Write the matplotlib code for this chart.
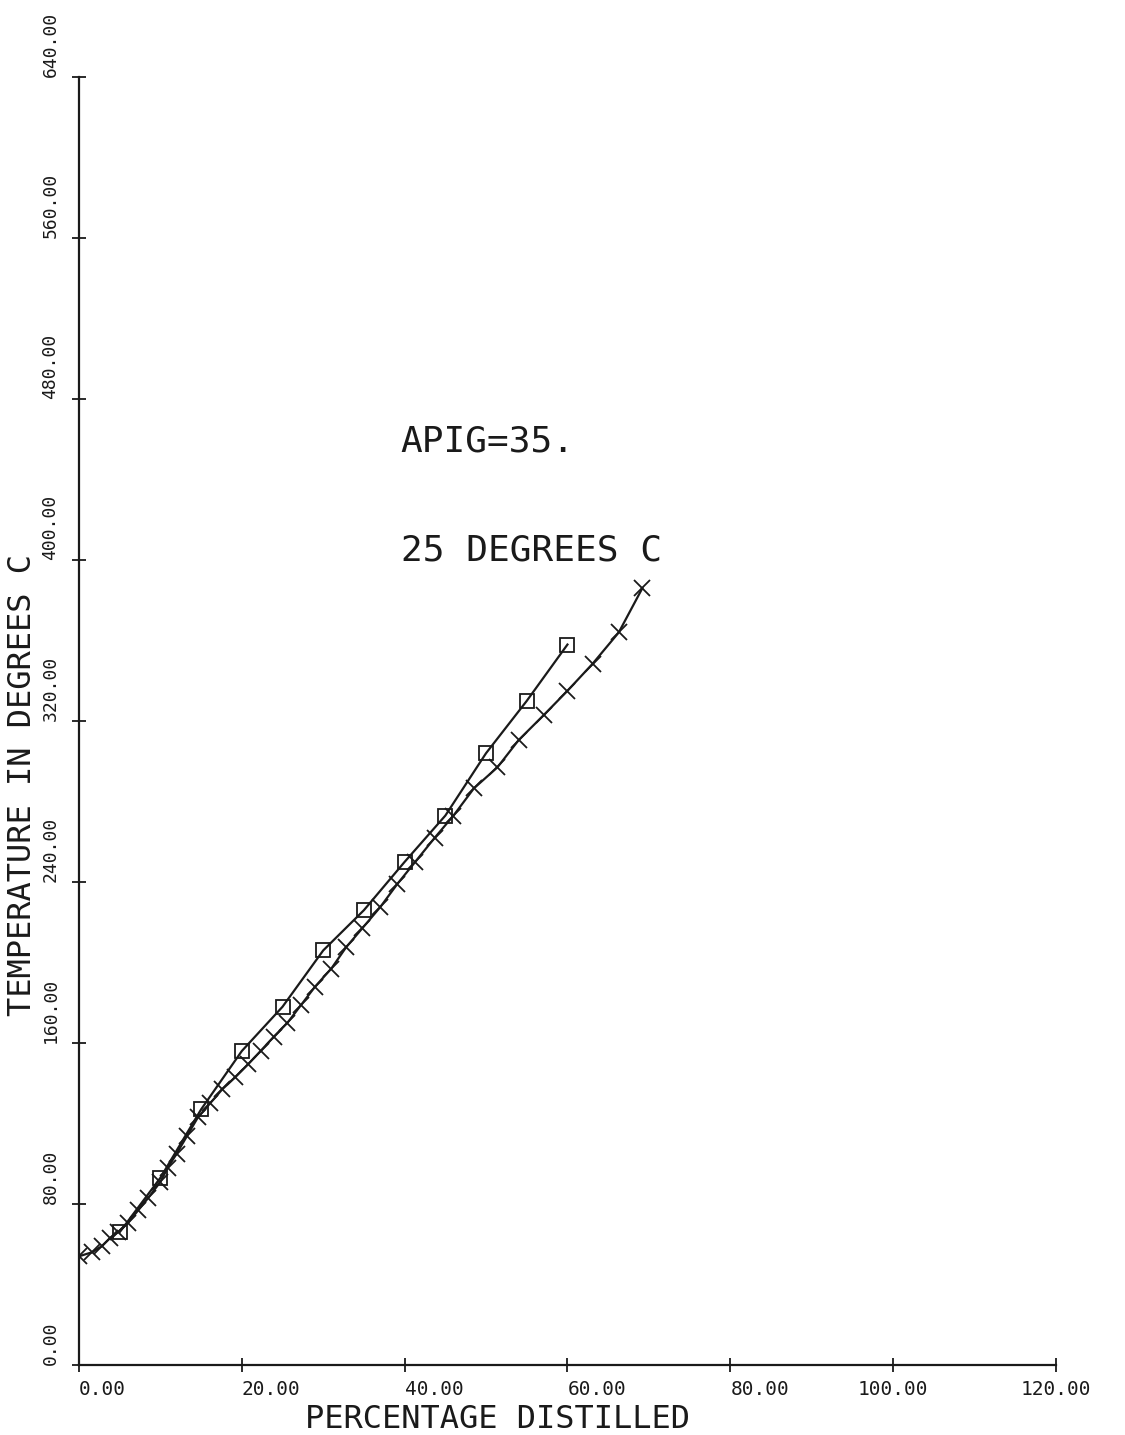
import numpy as np
import matplotlib
matplotlib.use("Agg")
import matplotlib.pyplot as plt

# distillation curve, square markers (every 5 %)
pct_sq = [5, 10, 15, 20, 25, 30, 35, 40, 45, 50, 55, 60]
temp_sq = [66, 93, 127, 156, 178, 206, 226, 250, 273, 304, 330, 358]

# distillation curve, cross markers
pct_x = [0.0, 1.6, 2.8, 3.8, 4.8, 6.0, 7.3, 8.5, 10.0, 10.9, 12.0, 13.3, 14.6,
         16.1, 17.6, 19.2, 20.8, 22.3, 23.9, 25.6, 27.3, 29.0, 31.0, 32.8,
         34.8, 37.0, 39.1, 41.3, 43.7, 46.0, 48.5, 51.4, 54.0, 57.1, 60.0,
         63.1, 66.3, 69.2]
temp_x = [54, 56, 59, 63, 66, 70.5, 77, 83, 91, 98, 105, 114, 123,
          130, 137, 143, 149.5, 156, 163, 170, 179, 188, 197, 207.5,
          217, 227.5, 239, 250, 262, 273, 286.5, 297, 310.5, 323, 335,
          348.5, 364, 386]

xticks = np.arange(0, 121, 20)
yticks = np.arange(0, 641, 80)

ink = "#1a1a1a"
mono = "DejaVu Sans Mono"

fig = plt.figure(figsize=(11.25, 14.35), dpi=100)
ax = fig.add_axes([0.0702, 0.0488, 0.8684, 0.8975])

ax.plot(pct_sq, temp_sq, color=ink, lw=1.6, marker="s", ms=10,
        mfc="none", mec=ink, mew=1.3)
ax.plot(pct_x, temp_x, color=ink, lw=1.6, marker="x", ms=12, mew=1.3)

ax.set_xlim(0, 120)
ax.set_ylim(0, 640)
for side in ("top", "right"):
    ax.spines[side].set_visible(False)
for side in ("left", "bottom"):
    ax.spines[side].set_color(ink)
    ax.spines[side].set_linewidth(1.6)

ax.set_xticks(xticks)
ax.set_yticks(yticks)
ax.set_xticklabels([f"{v:.2f}" for v in xticks], family=mono,
                   fontsize=14, color=ink)
ax.set_yticklabels([f"{v:.2f}" for v in yticks], family=mono,
                   fontsize=13, color=ink, rotation=90, va="bottom")
ax.tick_params(axis="both", direction="inout", length=10, width=1.3,
               color=ink)
ax.tick_params(axis="x", pad=6)
ax.tick_params(axis="y", pad=9)
for lab in ax.get_xticklabels():
    lab.set_ha("center" if len(lab.get_text()) > 5 else "left")

ax.text(0.428, -0.030, "PERCENTAGE DISTILLED", transform=ax.transAxes,
        ha="center", va="top", family=mono, fontsize=23, color=ink)
ax.text(-0.058, 0.45, "TEMPERATURE IN DEGREES C", transform=ax.transAxes,
        rotation=90, ha="center", va="center", family=mono,
        fontsize=23, color=ink)

ax.text(39.5, 454, "APIG=35.", ha="left", va="baseline",
        family=mono, fontsize=26, color=ink)
ax.text(39.5, 400, "25 DEGREES C", ha="left", va="baseline",
        family=mono, fontsize=26, color=ink)

fig.savefig("out.png", dpi=100, facecolor="white")
